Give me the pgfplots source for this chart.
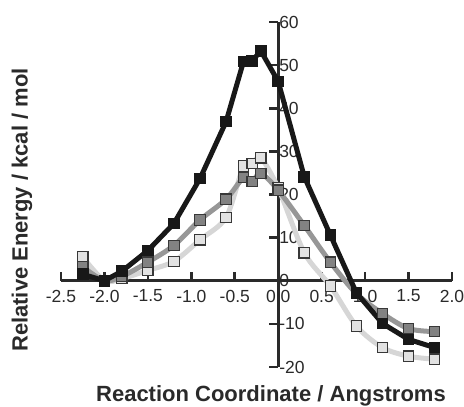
\documentclass[border=0pt]{standalone}
\usepackage{fontspec}
\setmainfont{Liberation Sans}
\usepackage{pgfplots}
\pgfplotsset{compat=1.18}
\definecolor{axisgray}{HTML}{2A2A2A}
\definecolor{blk}{HTML}{181818}
\definecolor{midfill}{HTML}{828282}
\definecolor{midline}{HTML}{979797}
\definecolor{ltfill}{HTML}{E2E2E2}
\definecolor{ltline}{HTML}{D6D6D6}
\definecolor{edge}{HTML}{383838}

\begin{document}
\begin{tikzpicture}
\begin{axis}[
    axis on top=false,
    scale only axis,
    width=391pt, height=345pt,
    xmin=-2.5, xmax=2.0, ymin=-20, ymax=60,
    axis lines=middle,
    every inner x axis line/.append style={axisgray, line width=2.6pt, -},
    every inner y axis line/.append style={axisgray, line width=2.6pt, -},
    hide obscured x ticks=false,
    hide obscured y ticks=false,
    xtick={-2.5,-2,-1.5,-1,-0.5,0,0.5,1,1.5,2},
    xticklabels={-2.5,-2.0,-1.5,-1.0,-0.5,0.0,0.5,1.0,1.5,2.0},
    ytick={-20,-10,0,10,20,30,40,50,60},
    yticklabels={-20,-10,0,10,20,30,40,50,60},
    minor tick num=0,
    major tick length=9pt,
    every major tick/.append style={axisgray, line width=2.6pt},
    xtick style={yshift=4.5pt},
    ytick style={xshift=-4.5pt},
    xticklabel style={font=\fontsize{17.5}{17.5}\selectfont, text=axisgray, anchor=north, yshift=-1pt},
    yticklabel style={font=\fontsize{17.5}{17.5}\selectfont, text=axisgray, anchor=west, xshift=2pt},
    xlabel={Reaction Coordinate / Angstroms},
    ylabel={Relative Energy / kcal / mol},
    xlabel style={at={(axis description cs:0.537,-0.084)}, anchor=center, font=\bfseries\fontsize{22}{22}\selectfont, text=axisgray},
    ylabel style={at={(axis description cs:-0.10,0.455)}, anchor=center, rotate=90, font=\bfseries\fontsize{22}{22}\selectfont, text=axisgray},
    clip=false,
]
% light gray series
\addplot[ltline, line width=5pt, smooth, tension=0.5,
    mark=square*, mark size=5.2pt,
    mark options={fill=ltfill, draw=edge, line width=1.2pt, solid}] coordinates {
    (-2.25, 5.5) (-2.0, 0.0) (-1.8, 0.5) (-1.5, 2.4) (-1.2, 4.5) (-0.9, 9.5)
    (-0.6, 14.7) (-0.4, 26.6) (-0.3, 27.2) (-0.2, 28.5) (0.0, 21.5) (0.3, 6.5)
    (0.6, -1.2) (0.9, -10.5) (1.2, -15.5) (1.5, -17.5) (1.8, -18.2)
};
% medium gray series
\addplot[midline, line width=5pt, smooth, tension=0.5,
    mark=square*, mark size=5.2pt,
    mark options={fill=midfill, draw=edge, line width=1.2pt, solid}] coordinates {
    (-2.25, 3.2) (-2.0, 0.0) (-1.8, 1.0) (-1.5, 4.3) (-1.2, 8.2) (-0.9, 14.1)
    (-0.6, 18.9) (-0.4, 23.9) (-0.3, 23.0) (-0.2, 24.9) (0.0, 21.0) (0.3, 12.8)
    (0.6, 4.3) (0.9, -3.0) (1.2, -7.6) (1.5, -11.1) (1.8, -11.8)
};
% black series
\addplot[blk, line width=5pt,
    mark=square*, mark size=5.2pt,
    mark options={fill=blk, draw=blk, line width=1.2pt, solid}] coordinates {
    (-2.25, 1.5) (-2.0, 0.0) (-1.8, 2.2) (-1.5, 7.0) (-1.2, 13.3) (-0.9, 23.7)
    (-0.6, 36.9) (-0.4, 50.8) (-0.3, 51.0) (-0.2, 53.3) (0.0, 46.2) (0.3, 24.1)
    (0.6, 10.6) (0.9, -2.8) (1.2, -9.9) (1.5, -13.6) (1.8, -15.5)
};
\end{axis}
\pgfresetboundingbox
\useasboundingbox (-61pt,-40pt) rectangle (403pt,367pt);
\end{tikzpicture}
\end{document}
